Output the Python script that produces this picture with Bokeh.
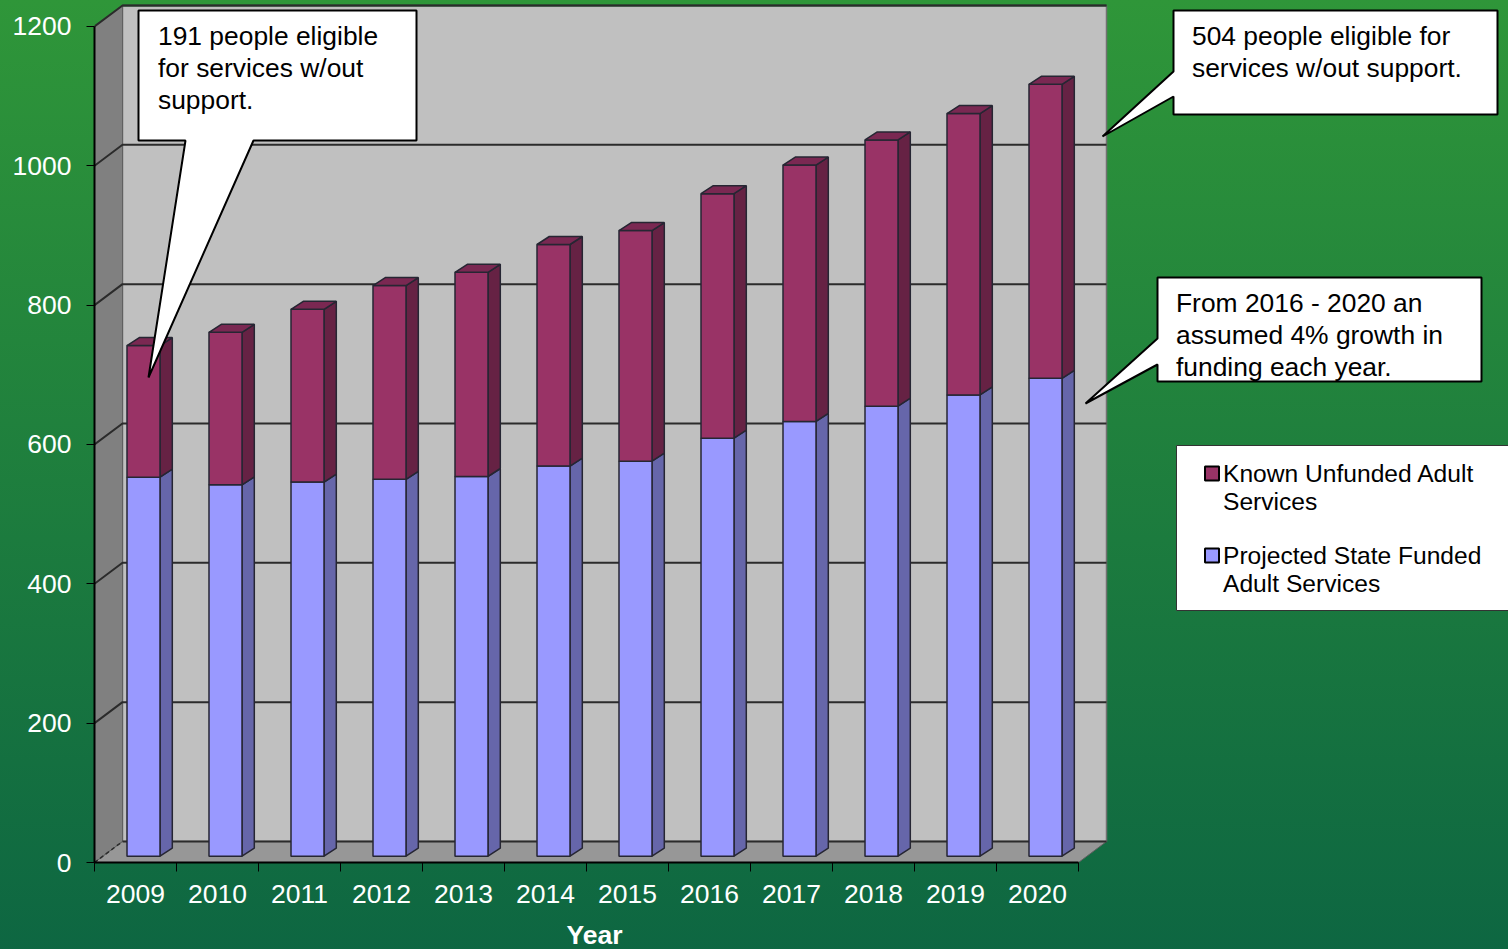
from bokeh.plotting import figure
from bokeh.models import Range1d, FixedTicker, Title
from bokeh.core.properties import value
from bokeh.embed import file_html
from bokeh.resources import INLINE

# ---- data ----
years = [2009, 2010, 2011, 2012, 2013, 2014, 2015, 2016, 2017, 2018, 2019, 2020]
state_funded = [544, 533, 537, 541, 545, 560, 567, 600, 624, 646, 662, 686]
unfunded = [189, 219, 248, 278, 293, 318, 331, 351, 368, 382, 404, 422]
y_ticks = [0, 200, 400, 600, 800, 1000, 1200]
series_names = ["Known Unfunded Adult\nServices", "Projected State Funded\nAdult Services"]
note_a = ["191 people eligible", "for services w/out", "support."]
note_b = ["504 people eligible for", "services w/out support."]
note_c = ["From 2016 - 2020 an", "assumed 4% growth in", "funding each year."]

# ---- layout ----
W, H = 1508, 949
L, B = 94, 862             # pixel of the axes' origin
PX_YEAR = 82.0             # pixels per category
PX_UNIT = 0.6967           # pixels per value unit
FONT = value("Liberation Sans")

def X(px):
    return 2008.5 + (px - L) / PX_YEAR

def Y(py):
    return (B - py) / PX_UNIT

p = figure(width=W, height=H, frame_width=W - L, frame_height=B,
           output_backend="svg", toolbar_location=None,
           x_range=Range1d(X(L), X(W)), y_range=Range1d(Y(B), Y(0)),
           min_border_left=L, min_border_right=0, min_border_top=0,
           min_border_bottom=H - B)
p.styles = {"position": "fixed", "left": "0", "top": "0",
            "background": "linear-gradient(180deg, #2f9639 0%, #0d6642 100%)"}
p.background_fill_alpha = 0
p.border_fill_alpha = 0
p.outline_line_color = None
p.grid.visible = False

# axes
ax = p.xaxis[0]
ax.ticker = FixedTicker(ticks=years, minor_ticks=[y - 0.5 for y in years] + [years[-1] + 0.5])
ax.major_label_overrides = {y: str(y) for y in years}
ax.bounds = (years[0] - 0.5, years[-1] + 0.5)
ax.major_tick_in = 0
ax.major_tick_out = 0
ax.minor_tick_in = 0
ax.minor_tick_out = 9
ax.minor_tick_line_color = "black"
ax.axis_line_color = "black"
ax.axis_line_width = 2
ax.major_label_text_color = "white"
ax.major_label_text_font = "Liberation Sans"
ax.major_label_text_font_size = "26.5px"
ax.major_label_standoff = 13

year_title = Title(text="Year", align="left", offset=472, standoff=24, text_color="white",
                   text_font="Liberation Sans", text_font_size="26.5px", text_font_style="bold")
p.add_layout(year_title, "below")

ay = p.yaxis[0]
ay.ticker = FixedTicker(ticks=y_ticks)
ay.major_label_overrides = {t: str(t) for t in y_ticks}
ay.bounds = (0, 1200)
ay.major_tick_in = 0
ay.major_tick_out = 8
ay.major_tick_line_color = "black"
ay.minor_tick_line_color = None
ay.axis_line_color = "black"
ay.axis_line_width = 2
ay.major_label_text_color = "white"
ay.major_label_text_font = "Liberation Sans"
ay.major_label_text_font_size = "26.5px"
ay.major_label_standoff = 15

# 3D box
DX, DY = 28 / PX_YEAR, 21 / PX_UNIT
x0, x1 = years[0] - 0.5, years[-1] + 0.5
top = y_ticks[-1]
p.patch([x0 + DX, x1 + DX, x1 + DX, x0 + DX], [DY, DY, top + DY, top + DY],
        fill_color="#c0c0c0", line_color="#707070", line_width=1.5)
p.patch([x0, x0 + DX, x0 + DX, x0], [0, DY, top + DY, top],
        fill_color="#808080", line_color="#606060", line_width=1)
p.patch([x0, x1, x1 + DX, x0 + DX], [0, 0, DY, DY],
        fill_color="#979797", line_color="#606060", line_width=1)
p.line([x0 + DX, x1 + DX], [top + DY, top + DY], line_color="#1a5c2c", line_width=2)
for t in y_ticks[1:]:
    p.line([x0, x0 + DX, x1 + DX], [t, t + DY, t + DY], line_color="#2b2b2b", line_width=2)
p.line([x0 + DX, x1 + DX], [DY, DY], line_color="#2b2b2b", line_width=2)
p.line([x0, x0 + DX], [0, DY], line_color="#2b2b2b", line_width=1.5, line_dash="4 3")

# bars
BASE = 6.3 / PX_UNIT
SHIFT = 8 / PX_YEAR
HALF = 16.5 / PX_YEAR
BDX, BDY = 12.3 / PX_YEAR, 8 / PX_UNIT
EDGE = "#262633"

for yr, blue, red in zip(years, state_funded, unfunded):
    a, b = yr + SHIFT - HALF, yr + SHIFT + HALF
    s0, s1, s2 = BASE, BASE + blue, BASE + blue + red
    for lo, hi, front, side in [(s0, s1, "#9999ff", "#6666aa"), (s1, s2, "#993366", "#662244")]:
        p.patch([b, b + BDX, b + BDX, b], [lo, lo + BDY, hi + BDY, hi],
                fill_color=side, line_color=EDGE, line_width=1.5)
        p.quad(left=a, right=b, bottom=lo, top=hi,
               fill_color=front, line_color=EDGE, line_width=1.5)
    p.patch([a, a + BDX, b + BDX, b], [s2, s2 + BDY, s2 + BDY, s2],
            fill_color="#7a2852", line_color=EDGE, line_width=1.5)

# callouts
TEXT_LIFT = 10  # the svg backend draws alphabetic text about this far lower

def callout(poly, lines, tx, first_base, step=32):
    p.patch([X(q[0]) for q in poly], [Y(q[1]) for q in poly],
            fill_color="white", line_color="black", line_width=2)
    for i, t in enumerate(lines):
        p.text(x=[X(tx)], y=[Y(first_base - TEXT_LIFT + i * step)], text=[t], text_font=FONT,
               text_font_size="26.4px", text_color="black",
               text_baseline="alphabetic", text_align="left")

callout([(138, 10), (416, 10), (416, 140), (253, 140), (148, 377), (185, 140), (138, 140)],
        note_a, 157.5, 45)
callout([(1173, 10), (1497, 10), (1497, 114), (1173, 114), (1173, 96), (1102, 136), (1173, 71)],
        note_b, 1191.5, 45)
callout([(1157, 277), (1481, 277), (1481, 381), (1157, 381), (1157, 364), (1085, 403), (1157, 338)],
        note_c, 1175.5, 312)

# legend
p.quad(left=X(1176), right=X(W), top=Y(445), bottom=Y(610), fill_color="white",
       line_color="#333333", line_width=1)
for name, colour, sw_top, base in zip(series_names, ["#993366", "#9999ff"], [466, 548], [483, 565]):
    p.quad(left=X(1204.5), right=X(1218.5), top=Y(sw_top), bottom=Y(sw_top + 14),
           fill_color=colour, line_color="black", line_width=2)
    for i, t in enumerate(name.split("\n")):
        p.text(x=[X(1222.5)], y=[Y(base - TEXT_LIFT + i * 28)], text=[t], text_font=FONT,
               text_font_size="24.6px", text_color="black",
               text_baseline="alphabetic", text_align="left")

open("out.html", "w").write(file_html(p, INLINE))
